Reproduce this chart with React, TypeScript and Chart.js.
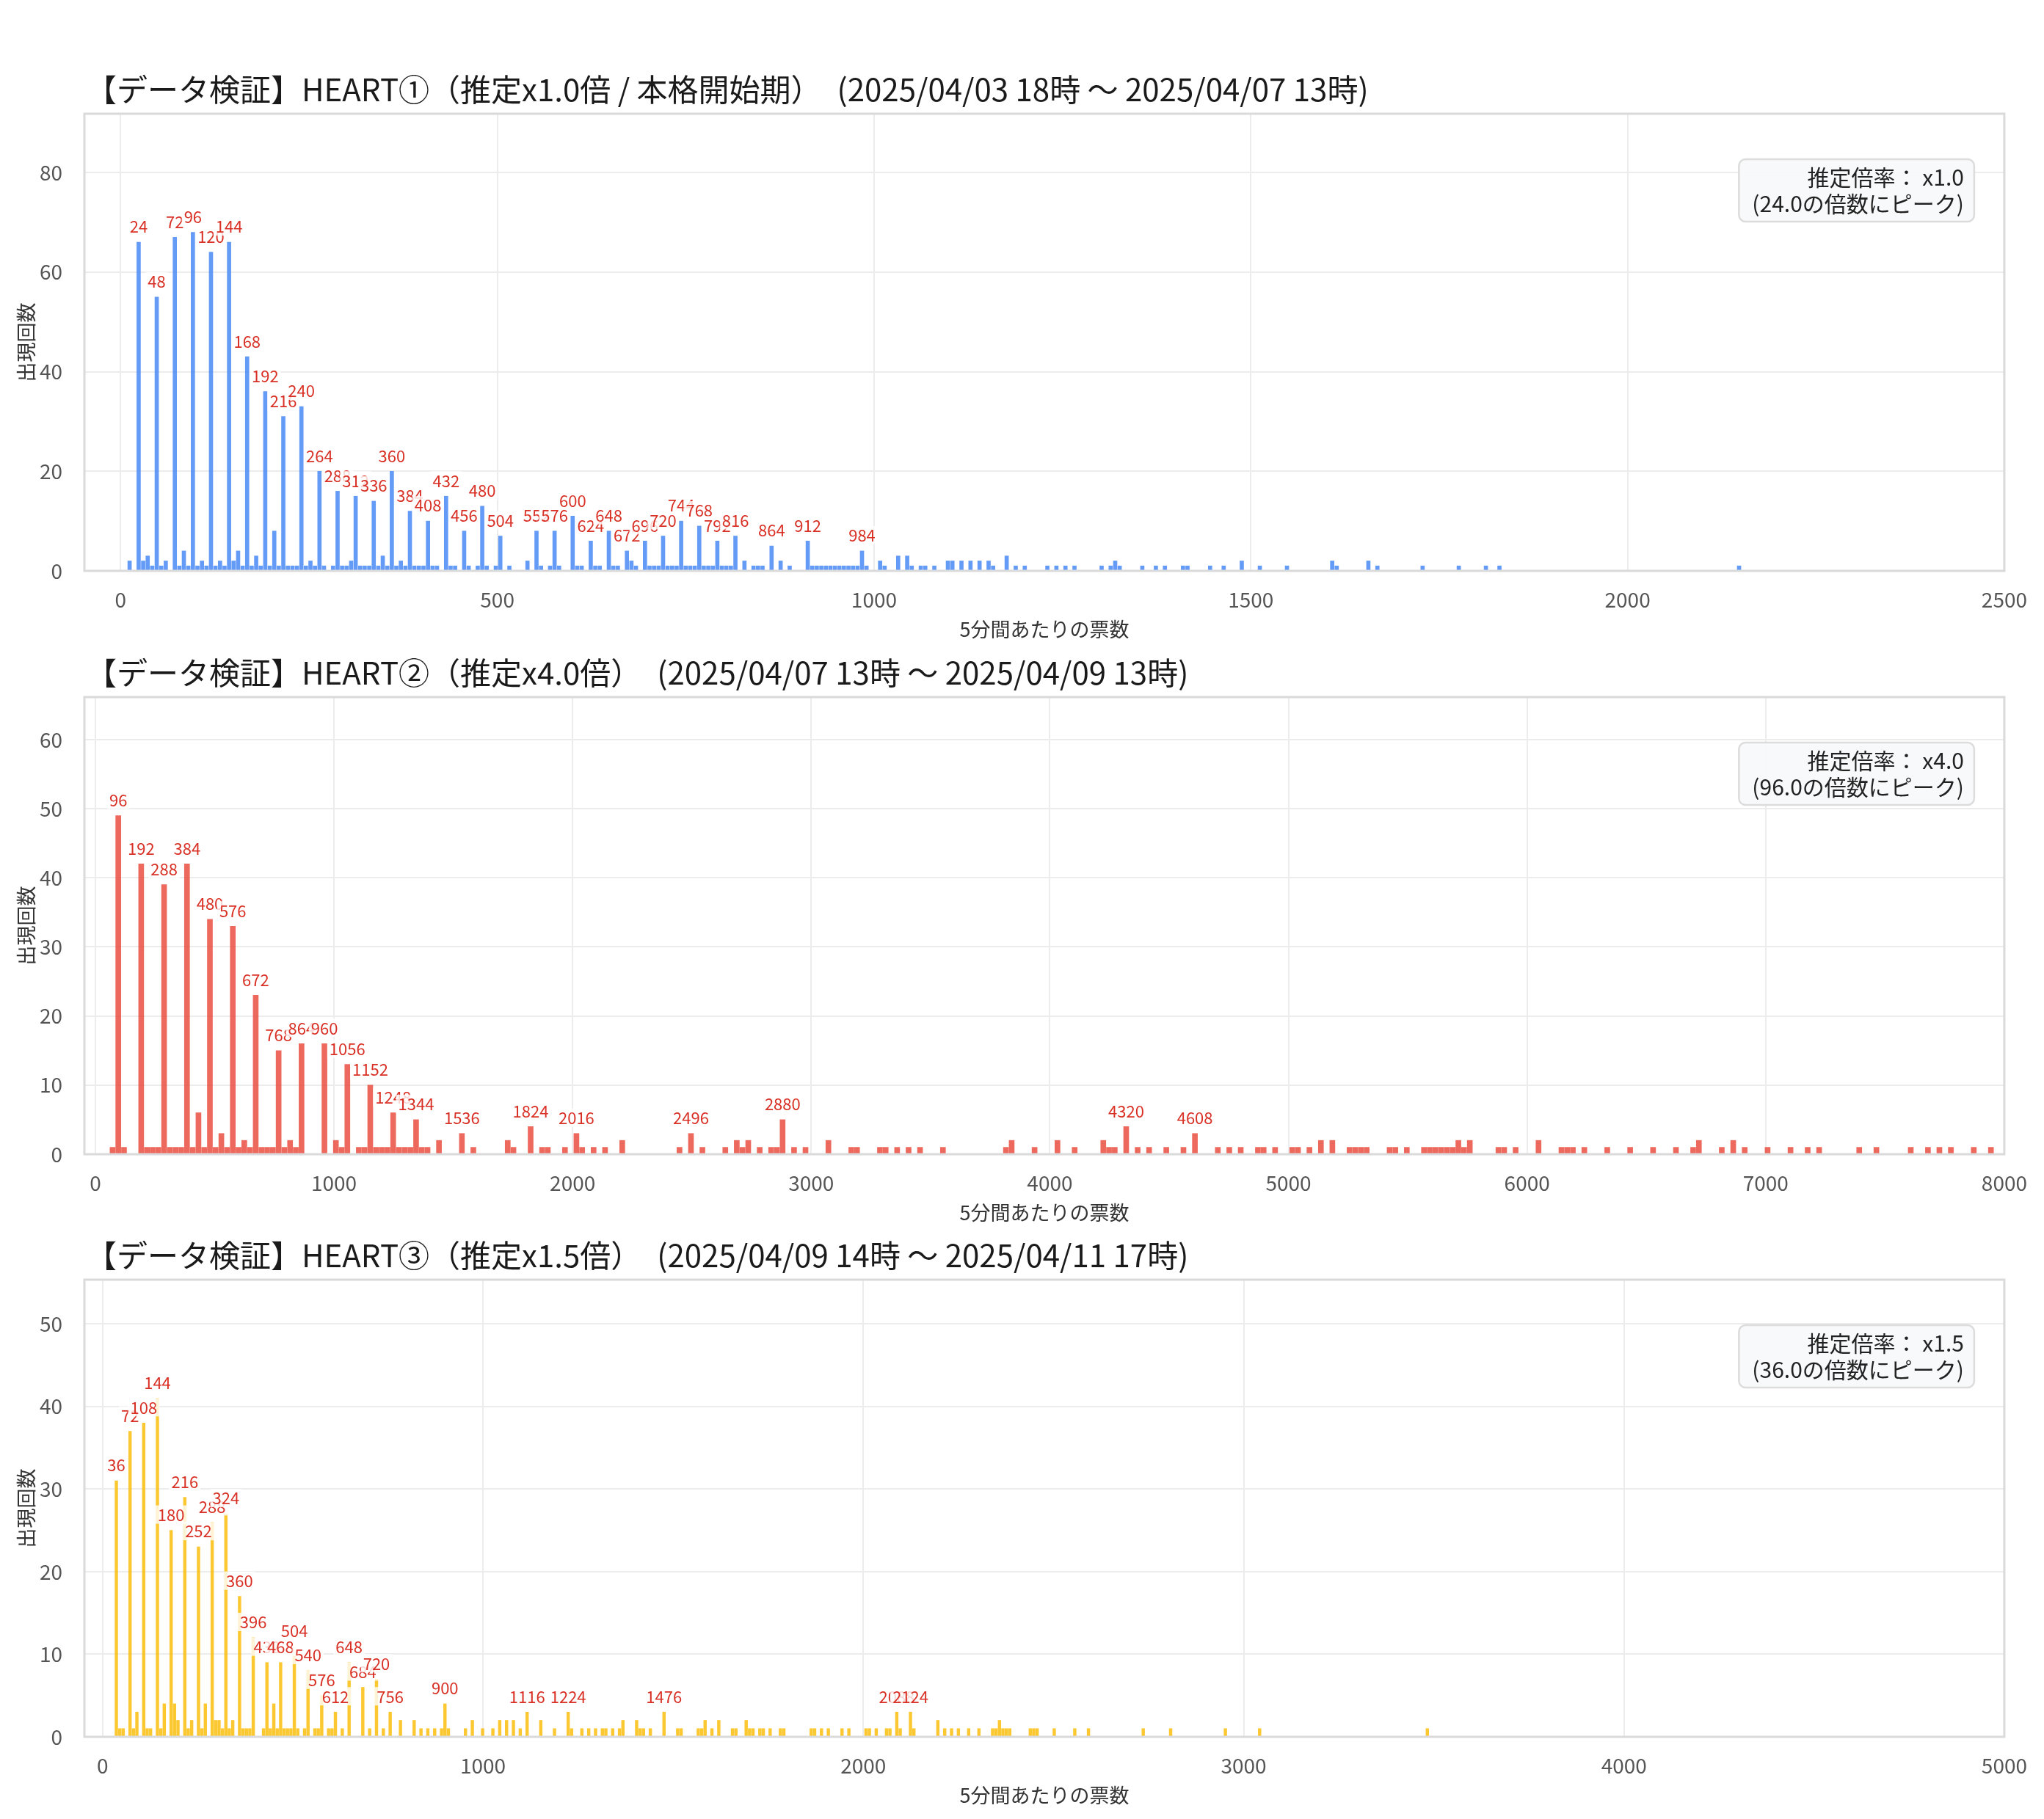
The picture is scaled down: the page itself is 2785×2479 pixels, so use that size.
import { useEffect, useRef } from "react";
import { Chart, registerables } from "chart.js";

Chart.register(...registerables);

const FONT = '"Noto Sans CJK JP", "Noto Sans", sans-serif';

// ---- HEART① : votes per 5 min (x) and how often they occurred (y) ----
const heart1Labeled: [number, number][] = [
  [24, 66], [48, 55], [72, 67], [96, 68], [120, 64], [144, 66], [168, 43], [192, 36],
  [216, 31], [240, 33], [264, 20], [288, 16], [312, 15], [336, 14], [360, 20], [384, 12],
  [408, 10], [432, 15], [456, 8], [480, 13], [504, 7], [552, 8], [576, 8], [600, 11],
  [624, 6], [648, 8], [672, 4], [696, 6], [720, 7], [744, 10], [768, 9], [792, 6],
  [816, 7], [864, 5], [912, 6], [984, 4],
];
const heart1Other: [number, number][] = [
  [12, 2], [30, 2], [36, 3], [42, 1], [54, 1], [60, 2], [78, 1], [84, 4], [90, 1], [102, 1],
  [108, 2], [114, 1], [126, 1], [132, 2], [138, 1], [150, 2], [156, 4], [162, 1], [174, 1],
  [180, 3], [186, 1], [198, 1], [204, 8], [210, 1], [222, 1], [228, 1], [234, 1], [246, 1],
  [252, 2], [258, 1], [270, 1], [282, 1], [294, 1], [300, 1], [306, 2], [318, 1], [324, 1],
  [330, 1], [342, 1], [348, 3], [354, 1], [366, 1], [372, 2], [378, 1], [390, 1], [396, 1],
  [402, 1], [414, 1], [420, 1], [438, 1], [444, 1], [462, 1], [474, 1], [486, 1], [498, 1],
  [516, 1], [540, 2], [558, 1], [570, 1], [582, 1], [606, 1], [612, 1], [630, 1], [636, 1],
  [654, 1], [660, 1], [678, 2], [684, 1], [702, 1], [708, 1], [714, 1], [726, 1], [732, 1],
  [738, 1], [750, 1], [756, 1], [762, 1], [774, 1], [780, 1], [786, 1], [798, 1], [804, 1],
  [810, 1], [828, 2], [840, 1], [846, 1], [852, 1], [876, 2], [888, 1], [918, 1], [924, 1],
  [930, 1], [936, 1], [942, 1], [948, 1], [954, 1], [960, 1], [966, 1], [972, 1], [978, 1],
  [990, 1], [1008, 2], [1014, 1], [1032, 3], [1044, 3], [1050, 1], [1062, 1], [1068, 1],
  [1080, 1], [1098, 2], [1104, 2], [1116, 2], [1128, 2], [1140, 2], [1152, 2], [1158, 1],
  [1176, 3], [1188, 1], [1200, 1], [1230, 1], [1242, 1], [1254, 1], [1266, 1], [1302, 1],
  [1314, 1], [1320, 2], [1326, 1], [1356, 1], [1374, 1], [1386, 1], [1410, 1], [1416, 1],
  [1446, 1], [1464, 1], [1488, 2], [1512, 1], [1548, 1], [1608, 2], [1614, 1], [1656, 2],
  [1668, 1], [1728, 1], [1776, 1], [1812, 1], [1830, 1], [2148, 1],
];

// ---- HEART② ----
const heart2Labeled: [number, number][] = [
  [96, 49], [192, 42], [288, 39], [384, 42], [480, 34], [576, 33], [672, 23], [768, 15],
  [864, 16], [960, 16], [1056, 13], [1152, 10], [1248, 6], [1344, 5], [1536, 3], [1824, 4],
  [2016, 3], [2496, 3], [2880, 5], [4320, 4], [4608, 3],
];
const heart2Other: [number, number][] = [
  [432, 6], [528, 3], [624, 2], [816, 2], [1008, 2], [1440, 2], [1728, 2], [2208, 2],
  [2688, 2], [2736, 2], [3072, 2], [3840, 2], [4032, 2], [4224, 2], [5136, 2], [5184, 2],
  [5712, 2], [5760, 2], [6048, 2], [6720, 2], [6864, 2],
  [72, 1], [120, 1], [216, 1], [240, 1], [264, 1], [312, 1], [336, 1], [360, 1], [408, 1],
  [456, 1], [504, 1], [552, 1], [600, 1], [648, 1], [696, 1], [720, 1], [744, 1], [792, 1],
  [840, 1], [1032, 1], [1104, 1], [1128, 1], [1176, 1], [1200, 1], [1224, 1], [1272, 1],
  [1296, 1], [1320, 1], [1368, 1], [1392, 1], [1584, 1], [1752, 1], [1872, 1], [1896, 1],
  [1968, 1], [2040, 1], [2088, 1], [2136, 1], [2448, 1], [2544, 1], [2640, 1], [2712, 1],
  [2784, 1], [2832, 1], [2856, 1], [2928, 1], [2976, 1], [3168, 1], [3192, 1], [3288, 1],
  [3312, 1], [3360, 1], [3408, 1], [3456, 1], [3552, 1], [3816, 1], [3936, 1], [4104, 1],
  [4248, 1], [4272, 1], [4368, 1], [4416, 1], [4488, 1], [4560, 1], [4704, 1], [4752, 1],
  [4800, 1], [4872, 1], [4896, 1], [4944, 1], [5016, 1], [5040, 1], [5088, 1], [5256, 1],
  [5280, 1], [5304, 1], [5328, 1], [5424, 1], [5448, 1], [5496, 1], [5568, 1], [5592, 1],
  [5616, 1], [5640, 1], [5664, 1], [5688, 1], [5736, 1], [5880, 1], [5904, 1], [5952, 1],
  [6144, 1], [6168, 1], [6192, 1], [6240, 1], [6336, 1], [6432, 1], [6528, 1], [6624, 1],
  [6696, 1], [6816, 1], [6912, 1], [7008, 1], [7104, 1], [7176, 1], [7224, 1], [7392, 1],
  [7464, 1], [7608, 1], [7680, 1], [7728, 1], [7776, 1], [7872, 1], [7944, 1],
];

// ---- HEART③ ----
const heart3Labeled: [number, number][] = [
  [36, 31], [72, 37], [108, 38], [144, 41], [180, 25], [216, 29], [252, 23], [288, 26],
  [324, 27], [360, 17], [396, 12], [432, 9], [468, 9], [504, 11], [540, 8], [576, 5],
  [612, 3], [648, 9], [684, 6], [720, 7], [756, 3], [900, 4], [1116, 3], [1224, 3],
  [1476, 3], [2088, 3], [2124, 3],
];
const heart3Other: [number, number][] = [
  [90, 3], [162, 4], [189, 4], [198, 2], [234, 2], [270, 4], [297, 2], [306, 2], [342, 2],
  [450, 4], [783, 2], [819, 2], [972, 2], [1044, 2], [1062, 2], [1080, 2], [1152, 2],
  [1368, 2], [1404, 2], [1584, 2], [1620, 2], [1692, 2], [2196, 2], [2358, 2],
  [45, 1], [54, 1], [81, 1], [117, 1], [126, 1], [153, 1], [225, 1], [261, 1], [315, 1],
  [333, 1], [369, 1], [378, 1], [387, 1], [423, 1], [441, 1], [459, 1], [477, 1], [486, 1],
  [495, 1], [513, 1], [531, 1], [558, 1], [567, 1], [594, 1], [603, 1], [630, 1], [702, 1],
  [738, 1], [837, 1], [855, 1], [873, 1], [891, 1], [909, 1], [954, 1], [999, 1], [1026, 1],
  [1098, 1], [1188, 1], [1233, 1], [1260, 1], [1278, 1], [1296, 1], [1314, 1], [1323, 1],
  [1341, 1], [1359, 1], [1413, 1], [1422, 1], [1440, 1], [1512, 1], [1521, 1], [1566, 1],
  [1575, 1], [1602, 1], [1656, 1], [1665, 1], [1701, 1], [1710, 1], [1728, 1], [1737, 1],
  [1755, 1], [1782, 1], [1791, 1], [1863, 1], [1872, 1], [1890, 1], [1908, 1], [1944, 1],
  [1962, 1], [2007, 1], [2016, 1], [2034, 1], [2061, 1], [2070, 1], [2097, 1], [2133, 1],
  [2214, 1], [2232, 1], [2250, 1], [2277, 1], [2304, 1], [2340, 1], [2349, 1], [2367, 1],
  [2376, 1], [2385, 1], [2439, 1], [2448, 1], [2457, 1], [2502, 1], [2556, 1], [2592, 1],
  [2736, 1], [2808, 1], [2952, 1], [3042, 1], [3483, 1],
];

const heart1XTicks = [0, 500, 1000, 1500, 2000, 2500];
const heart2XTicks = [0, 1000, 2000, 3000, 4000, 5000, 6000, 7000, 8000];
const heart3XTicks = [0, 1000, 2000, 3000, 4000, 5000];
const heart1YTicks = [0, 20, 40, 60, 80];
const heart2YTicks = [0, 10, 20, 30, 40, 50, 60];
const heart3YTicks = [0, 10, 20, 30, 40, 50];

const heart1Title = "【データ検証】HEART①（推定x1.0倍 / 本格開始期）　(2025/04/03 18時 〜 2025/04/07 13時)";
const heart2Title = "【データ検証】HEART②（推定x4.0倍）　(2025/04/07 13時 〜 2025/04/09 13時)";
const heart3Title = "【データ検証】HEART③（推定x1.5倍）　(2025/04/09 14時 〜 2025/04/11 17時)";

const heart1Note = ["推定倍率： x1.0", "(24.0の倍数にピーク)"];
const heart2Note = ["推定倍率： x4.0", "(96.0の倍数にピーク)"];
const heart3Note = ["推定倍率： x1.5", "(36.0の倍数にピーク)"];

type PanelConfig = {
  title: string;
  labeled: [number, number][];
  other: [number, number][];
  note: string[];
  color: string;
  barPx: number;
  xMin: number;
  xMax: number;
  xTicks: number[];
  yTicks: number[];
};

const panels: PanelConfig[] = [
  {
    title: heart1Title, labeled: heart1Labeled, other: heart1Other, note: heart1Note,
    color: "rgba(66,133,244,0.82)", barPx: 5, xMin: -48, xMax: 2500,
    xTicks: heart1XTicks, yTicks: heart1YTicks,
  },
  {
    title: heart2Title, labeled: heart2Labeled, other: heart2Other, note: heart2Note,
    color: "rgba(234,67,53,0.8)", barPx: 7, xMin: -46, xMax: 8000,
    xTicks: heart2XTicks, yTicks: heart2YTicks,
  },
  {
    title: heart3Title, labeled: heart3Labeled, other: heart3Other, note: heart3Note,
    color: "rgba(251,188,5,0.82)", barPx: 3.8, xMin: -48, xMax: 5000,
    xTicks: heart3XTicks, yTicks: heart3YTicks,
  },
];

const CANVAS_W = 2785;
const CANVAS_H = 880;
const PANEL_TOPS = [0, 795, 1589];

function HistPanel({ cfg, top }: { cfg: PanelConfig; top: number }) {
  const ref = useRef<HTMLCanvasElement | null>(null);

  useEffect(() => {
    const canvas = ref.current;
    if (!canvas) return;
    const bars = [...cfg.labeled, ...cfg.other].sort((a, b) => a[0] - b[0]);
    const yMax = Math.max(...bars.map((b) => b[1])) * 1.35;

    const overlay = {
      id: "panelOverlay",
      afterDatasetsDraw(chart: any) {
        const { ctx, chartArea: a } = chart;
        const xs = chart.scales.x;
        const ys = chart.scales.y;
        ctx.save();
        // axes frame
        ctx.strokeStyle = "#dadada";
        ctx.lineWidth = 3;
        ctx.strokeRect(a.left, a.top, a.right - a.left, a.bottom - a.top);

        // peak labels
        ctx.font = `22px ${FONT}`;
        ctx.textAlign = "center";
        ctx.textBaseline = "middle";
        for (const [v, c] of cfg.labeled) {
          const px = xs.getPixelForValue(v);
          const py = ys.getPixelForValue(c) - 22;
          const text = String(v);
          const w = ctx.measureText(text).width;
          ctx.fillStyle = "rgba(255,255,255,0.8)";
          ctx.fillRect(px - w / 2 - 3, py - 12, w + 6, 25);
          ctx.fillStyle = "#d93025";
          ctx.fillText(text, px, py + 1);
        }
        ctx.restore();
      },
      afterDraw(chart: any) {
        const { ctx, chartArea: a } = chart;
        ctx.save();
        // title
        ctx.font = `42px ${FONT}`;
        ctx.fillStyle = "#1a1a1a";
        ctx.textAlign = "left";
        ctx.textBaseline = "middle";
        ctx.fillText(cfg.title, a.left + 2, a.top - 33);

        // multiplier note box
        ctx.font = `30px ${FONT}`;
        const tw = Math.max(...cfg.note.map((l) => ctx.measureText(l).width));
        const right = a.right - 41;
        const boxTop = a.top + 62;
        const boxH = 85;
        const boxW = tw + 32;
        ctx.beginPath();
        if (ctx.roundRect) ctx.roundRect(right - boxW, boxTop, boxW, boxH, 9);
        else ctx.rect(right - boxW, boxTop, boxW, boxH);
        ctx.fillStyle = "rgba(248,249,250,0.95)";
        ctx.fill();
        ctx.strokeStyle = "#dcdcdc";
        ctx.lineWidth = 2.5;
        ctx.stroke();
        ctx.fillStyle = "#222";
        ctx.textAlign = "right";
        ctx.textBaseline = "middle";
        cfg.note.forEach((line, i) => {
          ctx.fillText(line, right - 14, boxTop + 25 + i * 35.5);
        });
        ctx.restore();
      },
    };

    const chart = new Chart(canvas, {
      type: "bar",
      data: {
        datasets: [
          {
            data: bars.map(([x, y]) => ({ x, y })),
            backgroundColor: cfg.color,
            borderWidth: 0,
            barThickness: cfg.barPx,
            grouped: false,
          } as any,
        ],
      },
      options: {
        responsive: false,
        animation: false,
        devicePixelRatio: 1,
        layout: { padding: { top: 155, left: 0, right: 50, bottom: 0 } },
        plugins: {
          legend: { display: false },
          tooltip: { enabled: false },
          title: { display: false },
        },
        scales: {
          x: {
            type: "linear",
            offset: false,
            min: cfg.xMin,
            max: cfg.xMax,
            grid: { color: "#ececec", lineWidth: 2, drawTicks: false, offset: false },
            border: { display: false },
            ticks: {
              font: { family: FONT, size: 28 },
              color: "#555",
              padding: 23,
              autoSkip: false,
              maxRotation: 0,
              callback: (v: any) => String(v),
            },
            title: {
              display: true,
              text: "5分間あたりの票数",
              font: { family: FONT, size: 27 },
              color: "#333",
              padding: { top: 0, bottom: 6 },
            },
            afterBuildTicks: (s: any) => {
              s.ticks = cfg.xTicks.map((value) => ({ value }));
            },
            afterFit: (s: any) => {
              s.height = 102;
            },
          },
          y: {
            type: "linear",
            min: 0,
            max: yMax,
            grid: { color: "#ececec", lineWidth: 2, drawTicks: false },
            border: { display: false },
            ticks: {
              font: { family: FONT, size: 28 },
              color: "#555",
              padding: 30,
              callback: (v: any) => String(v),
            },
            title: {
              display: true,
              text: "出現回数",
              font: { family: FONT, size: 27 },
              color: "#333",
              padding: { top: 20, bottom: 0 },
            },
            afterBuildTicks: (s: any) => {
              s.ticks = cfg.yTicks.map((value) => ({ value }));
            },
            afterFit: (s: any) => {
              s.width = 115;
            },
          },
        },
      } as any,
      plugins: [overlay],
    });

    return () => chart.destroy();
  }, [cfg]);

  return (
    <canvas
      ref={ref}
      width={CANVAS_W}
      height={CANVAS_H}
      style={{ position: "absolute", left: 0, top, width: CANVAS_W, height: CANVAS_H }}
    />
  );
}

export default function App() {
  return (
    <div
      style={{
        position: "absolute",
        left: 0,
        top: 0,
        width: CANVAS_W,
        height: 2469,
        background: "#ffffff",
      }}
    >
      {panels.map((cfg, i) => (
        <HistPanel key={i} cfg={cfg} top={PANEL_TOPS[i]} />
      ))}
    </div>
  );
}
